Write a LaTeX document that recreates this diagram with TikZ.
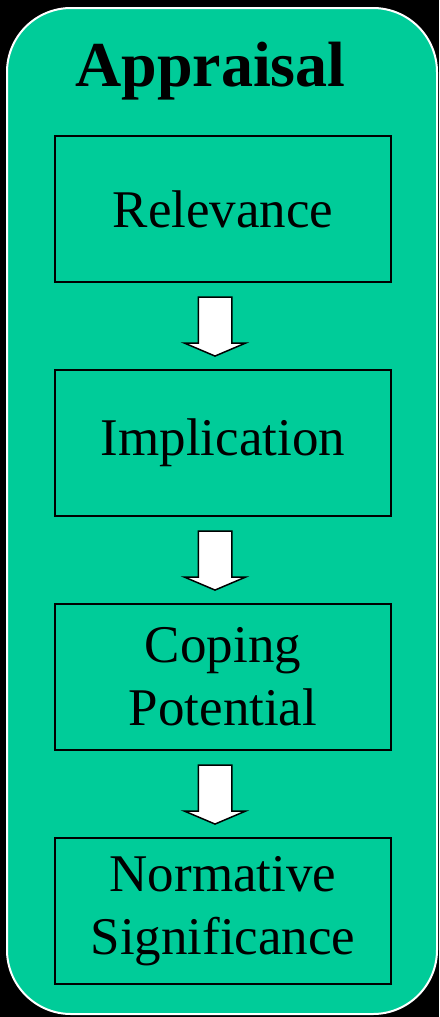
\documentclass[tikz,border=0pt]{standalone}
\usepackage{fontspec}
\setmainfont{Liberation Serif}
\usetikzlibrary{shapes.arrows,calc}
\definecolor{appgreen}{HTML}{00CC99}
\begin{document}
\begin{tikzpicture}[x=1pt,y=-1pt,node distance=234pt,
	step box/.style={draw=black,line width=2pt,minimum width=336pt,minimum height=146pt,inner sep=0pt,align=center,font=\fontsize{53}{63}\selectfont},
	down arrow/.style={single arrow,draw=black,fill=white,line width=1.5pt,shape border rotate=270,minimum height=59pt,single arrow head extend=14pt,single arrow tip angle=134,inner sep=16pt,xshift=-8pt,yshift=3pt}]

		\fill[black] (0,0) rectangle (439,1017);
		\useasboundingbox (0,0) rectangle (439,1017);
		\draw[white,line width=2pt,fill=appgreen,rounded corners=64pt] (7,8) rectangle (437,1014);

		\node[anchor=base,font=\fontsize{64}{70}\selectfont\bfseries] (title) at (210.5,86) {Appraisal};

		\node (1) [step box] at (223,209) {Relevance};
		\node (2) [step box,below of = 1] {Implication};
		\node (3) [step box,below of = 2] {Coping\\Potential};
		\node (4) [step box,below of = 3] {Normative\\Significance};

		\node (a1) [down arrow] at ($(1.south)!0.5!(2.north)$) {};
		\node (a2) [down arrow] at ($(2.south)!0.5!(3.north)$) {};
		\node (a3) [down arrow] at ($(3.south)!0.5!(4.north)$) {};

	\end{tikzpicture}
\end{document}
